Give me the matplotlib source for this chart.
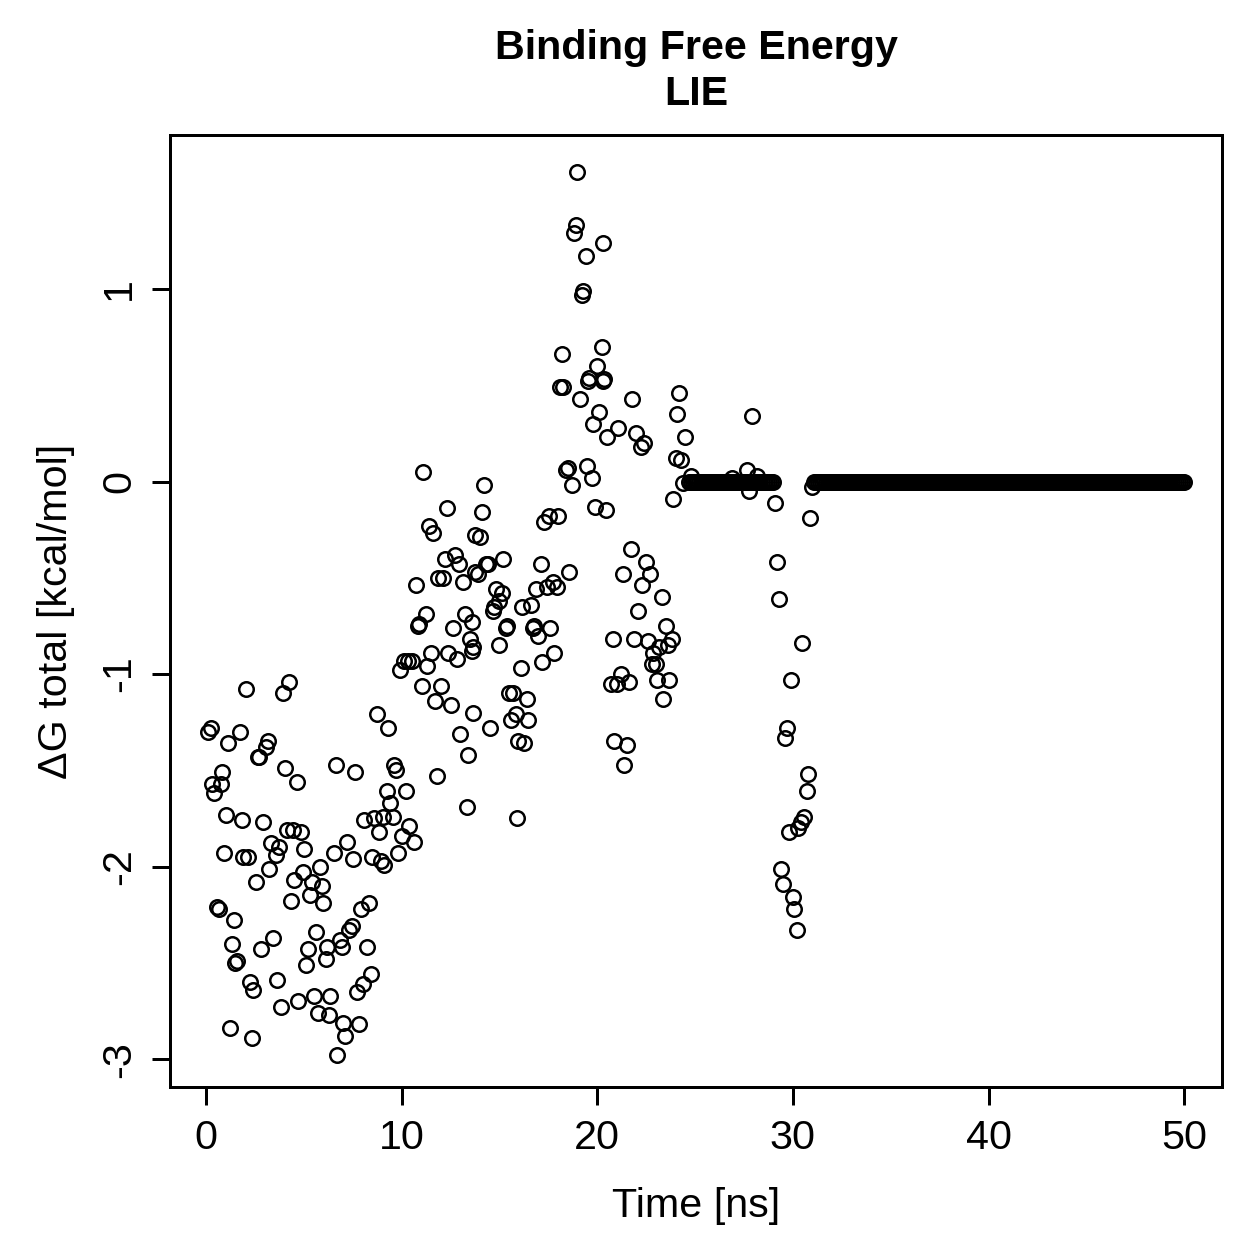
"""Binding free energy (LIE) over time, base-R look."""

import matplotlib
matplotlib.use("Agg")
import matplotlib.pyplot as plt
import numpy as np

plt.rcParams["font.family"] = ["Liberation Sans", "DejaVu Sans"]
plt.rcParams["axes.unicode_minus"] = False

# Scattered frames: time [ns], dG total [kcal/mol].
time_ns = [
    2.04, 4.24, 3.94, 0.26, 0.10, 1.74, 1.12, 3.17, 3.07, 2.71, 2.66, 4.04,
    4.65, 0.82, 0.31, 0.77, 0.41, 1.02, 1.84, 2.91, 4.14, 4.45, 4.86, 6.65,
    3.32, 3.73, 3.58, 5.01, 0.92, 1.89, 2.15, 3.22, 2.56, 5.83, 4.96, 4.50,
    5.42, 5.93, 5.32, 4.35, 5.98, 6.54, 0.56, 0.66, 1.43, 1.33, 2.81, 3.43,
    5.62, 5.21, 6.19, 6.13, 5.11, 1.58, 1.48, 2.25, 2.40, 3.63, 3.83, 4.70,
    5.52, 5.73, 6.29, 6.34, 1.23, 2.35, 6.70,
    10.12, 10.33, 10.53, 9.92, 11.50, 11.30, 12.37, 12.83, 13.60, 11.04,
    12.01, 11.71, 12.53, 13.65, 8.74, 9.30, 12.99, 13.39, 7.62, 9.61, 9.71,
    11.81, 13.34, 9.25, 10.22, 9.41, 8.08, 8.59, 9.05, 9.56, 8.84, 10.38,
    10.02, 10.63, 7.21, 7.52, 8.49, 8.95, 9.10, 9.82, 8.33, 7.92, 7.46, 7.31,
    6.85, 6.95, 8.23, 8.44, 8.03, 7.72, 7.00, 7.82, 7.11,
    11.09, 12.32, 11.40, 11.61, 13.75, 12.22, 12.73, 12.93, 13.75, 11.86,
    12.12, 13.14, 10.74, 11.25, 10.89, 10.84, 13.24, 13.60, 12.63, 13.50,
    13.65,
    18.10, 18.25, 19.53, 20.30, 19.12, 20.09, 19.79, 20.50, 18.51, 18.40,
    19.48, 19.73, 18.71, 19.89, 20.45, 14.21, 14.11, 14.01, 17.54, 17.28,
    18.00, 17.13, 18.56, 15.18, 14.42, 14.31, 13.91, 16.87, 17.43, 17.74,
    17.94, 14.83, 15.13, 14.98, 14.72, 14.67, 16.16, 16.62, 15.39, 15.34,
    16.77, 16.72, 17.59, 16.97, 14.98, 17.79, 17.18, 16.10, 20.81, 20.70,
    15.49, 15.70, 16.41, 15.85, 15.59, 16.46, 14.52, 15.95, 16.26, 20.85,
    15.90,
    18.97, 18.92, 18.81, 20.30, 19.43, 19.27, 19.22, 18.20, 20.25, 19.99,
    19.58, 20.35,
    21.78, 24.18, 24.08, 21.06, 21.98, 22.39, 22.24, 24.49, 24.03, 24.28,
    24.80, 23.87,
    21.73, 22.49, 22.70, 21.32, 22.29, 23.31, 22.09, 23.52, 21.88, 22.60,
    23.82, 23.16, 23.62, 22.85, 22.80, 23.01, 21.22, 21.01, 21.63, 23.06,
    23.67, 23.36, 21.52, 21.37,
    27.91, 24.39, 27.66, 28.17, 27.76, 29.09, 30.88, 30.98, 29.19, 29.29,
    30.47, 29.91, 29.70, 29.60, 30.78, 30.73, 30.57, 30.42, 30.27, 29.81,
    29.40, 29.50, 30.01, 30.06, 30.21, 26.89,
]
dg_total = [
    -1.08, -1.04, -1.10, -1.28, -1.30, -1.30, -1.36, -1.35, -1.38, -1.43,
    -1.43, -1.49, -1.56, -1.51, -1.57, -1.57, -1.62, -1.73, -1.76, -1.77,
    -1.81, -1.81, -1.82, -1.47, -1.88, -1.90, -1.94, -1.91, -1.93, -1.95,
    -1.95, -2.01, -2.08, -2.00, -2.03, -2.07, -2.08, -2.10, -2.15, -2.18,
    -2.19, -1.93, -2.21, -2.22, -2.28, -2.40, -2.43, -2.37, -2.34, -2.43,
    -2.42, -2.48, -2.51, -2.49, -2.50, -2.60, -2.64, -2.59, -2.73, -2.70,
    -2.67, -2.76, -2.77, -2.67, -2.84, -2.89, -2.98,
    -0.93, -0.93, -0.93, -0.98, -0.89, -0.96, -0.89, -0.92, -0.88, -1.06,
    -1.06, -1.14, -1.16, -1.20, -1.21, -1.28, -1.31, -1.42, -1.51, -1.47,
    -1.50, -1.53, -1.69, -1.61, -1.61, -1.67, -1.76, -1.75, -1.74, -1.74,
    -1.82, -1.79, -1.84, -1.87, -1.87, -1.96, -1.95, -1.97, -1.99, -1.93,
    -2.19, -2.22, -2.31, -2.33, -2.38, -2.42, -2.42, -2.56, -2.61, -2.65,
    -2.81, -2.82, -2.88,
    0.05, -0.14, -0.23, -0.27, -0.28, -0.40, -0.38, -0.43, -0.47, -0.50,
    -0.50, -0.52, -0.54, -0.69, -0.74, -0.75, -0.69, -0.73, -0.76, -0.82,
    -0.86,
    0.49, 0.49, 0.52, 0.52, 0.43, 0.36, 0.30, 0.23, 0.07, 0.06,
    0.08, 0.02, -0.02, -0.13, -0.15, -0.02, -0.16, -0.29, -0.18, -0.21,
    -0.18, -0.43, -0.47, -0.40, -0.43, -0.43, -0.48, -0.56, -0.55, -0.52,
    -0.55, -0.56, -0.58, -0.62, -0.65, -0.67, -0.65, -0.64, -0.75, -0.76,
    -0.75, -0.76, -0.76, -0.80, -0.85, -0.89, -0.94, -0.97, -0.82, -1.05,
    -1.10, -1.10, -1.13, -1.21, -1.24, -1.24, -1.28, -1.35, -1.36, -1.35,
    -1.75,
    1.61, 1.33, 1.29, 1.24, 1.17, 0.99, 0.97, 0.66, 0.70, 0.60,
    0.54, 0.53,
    0.43, 0.46, 0.35, 0.28, 0.25, 0.20, 0.18, 0.23, 0.12, 0.11,
    0.03, -0.09,
    -0.35, -0.42, -0.48, -0.48, -0.54, -0.60, -0.67, -0.75, -0.82, -0.83,
    -0.82, -0.86, -0.85, -0.89, -0.95, -0.95, -1.00, -1.05, -1.04, -1.03,
    -1.03, -1.13, -1.37, -1.47,
    0.34, -0.01, 0.06, 0.03, -0.05, -0.11, -0.19, -0.03, -0.42, -0.61,
    -0.84, -1.03, -1.28, -1.33, -1.52, -1.61, -1.74, -1.77, -1.80, -1.82,
    -2.01, -2.09, -2.16, -2.22, -2.33, 0.02,
]

# Stretches where dG sits flat at 0 (start, end in ns), sampled every 0.1 ns.
zero_spans = [(24.7, 29.0), (31.1, 50.0)]
frame_step = 0.1

zero_t = np.concatenate([np.arange(a, b + 1e-6, frame_step) for a, b in zero_spans])
t = np.concatenate([np.asarray(time_ns), zero_t])
g = np.concatenate([np.asarray(dg_total), np.zeros_like(zero_t)])

fig = plt.figure(figsize=(1259 / 180, 1259 / 180), dpi=180)
ax = fig.add_axes([0.135, 0.1366, 0.8357, 0.7562])

ax.plot(t, g, linestyle="none", marker="o", markersize=5.8,
        markerfacecolor="none", markeredgecolor="black", markeredgewidth=1.0)

ax.set_xlim(-1.84, 51.94)
ax.set_ylim(-3.145, 1.80)
ax.set_xticks([0, 10, 20, 30, 40, 50])
ax.set_yticks([-3, -2, -1, 0, 1])

for s in ax.spines.values():
    s.set_linewidth(1.2)
ax.tick_params(axis="both", direction="out", length=7.2, width=1.2,
               labelsize=16.5)
ax.tick_params(axis="x", pad=5.5)
ax.tick_params(axis="y", pad=5.5)
for lab in ax.get_yticklabels():
    lab.set_rotation(90)
    lab.set_va("center")

ax.set_xlabel("Time [ns]", fontsize=16.5, labelpad=12)
ax.set_ylabel("ΔG total [kcal/mol]", fontsize=16.5, labelpad=10)
ax.set_title("Binding Free Energy\nLIE", fontsize=16.5, fontweight="bold",
             pad=12, linespacing=1.25)

fig.savefig("out.png", dpi=180)
